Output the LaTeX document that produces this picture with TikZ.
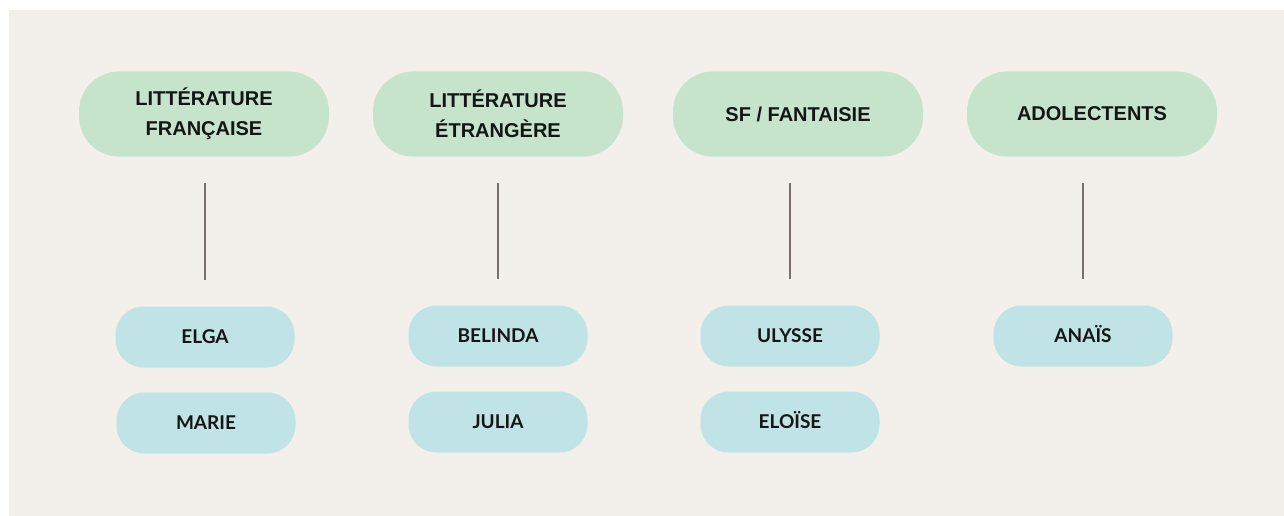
\documentclass[tikz,border=0pt]{standalone}
\usepackage{fontspec}
\setmainfont{Liberation Sans}
\newfontfamily\namefont{Lato}
\definecolor{paper}{HTML}{F3EFEA}
\definecolor{genre}{HTML}{C6E3CC}
\definecolor{reader}{HTML}{C0E3E5}
\definecolor{stem}{HTML}{7B6E6E}
\definecolor{ink}{HTML}{151515}

\begin{document}
\begin{tikzpicture}[x=1pt,y=1pt]

      \useasboundingbox (0,0) rectangle (1284,-516);
      \fill[paper] (9,-10) rectangle (1290,-522);

      \begin{scope}[every node/.style={fill=genre, rounded corners=40pt, minimum width=250pt, minimum height=85pt, align=center, text=ink, font=\bfseries\fontsize{20}{30}\selectfont}]
        \node (1) at (204,-114) {LITTÉRATURE\\FRANÇAISE};
        \node (2) at (498,-114) {LITTÉRATURE\\ÉTRANGÈRE};
        \node (3) at (798,-114) {SF / FANTAISIE};
        \node (4) at (1092,-114) {ADOLECTENTS};
      \end{scope}

      \begin{scope}[every node/.style={fill=reader, rounded corners=28pt, minimum width=179pt, minimum height=61pt, text height=13.5pt, text depth=0pt, text=ink, font=\namefont\bfseries\fontsize{19}{22}\selectfont}]
        \node (5)  at (205,-337) {ELGA};
        \node (6)  at (206,-423) {MARIE};
        \node (7)  at (498,-336) {BELINDA};
        \node (8)  at (498,-422) {JULIA};
        \node (9)  at (790,-336) {ULYSSE};
        \node (10) at (790,-422) {ELOÏSE};
        \node (11) at (1083,-336) {ANAÏS};
      \end{scope}

      \begin{scope}[every path/.style={draw=stem, line width=1.6pt, shorten <=26pt, shorten >=26pt}]
        \path (5 |- 1.south) -- (5);
        \path (2) -- (7);
        \path (9 |- 3.south) -- (9);
        \path (11 |- 4.south) -- (11);
      \end{scope}

    \end{tikzpicture}
\end{document}
